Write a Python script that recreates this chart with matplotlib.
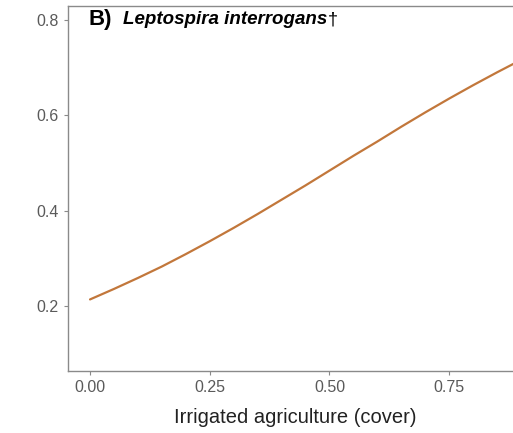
import matplotlib.pyplot as plt

plt.rcParams['font.family'] = ['Liberation Sans', 'DejaVu Sans']

# predicted probability along irrigated agriculture cover
cover = [0.00, 0.05, 0.10, 0.15, 0.20, 0.25, 0.30, 0.35, 0.40, 0.45, 0.50,
         0.55, 0.60, 0.65, 0.70, 0.75, 0.80, 0.85, 0.90, 0.95]
prob = [0.214, 0.236, 0.259, 0.283, 0.309, 0.336, 0.364, 0.393, 0.423, 0.453, 0.484,
        0.515, 0.545, 0.576, 0.606, 0.635, 0.663, 0.690, 0.716, 0.740]

xticks = [0.00, 0.25, 0.50, 0.75]
xtick_labels = ['0.00', '0.25', '0.50', '0.75']
yticks = [0.2, 0.4, 0.6, 0.8]
ytick_labels = ['0.2', '0.4', '0.6', '0.8']

fig = plt.figure(figsize=(5.13, 4.33), dpi=100)
ax = fig.add_axes([68 / 513, 1 - 371 / 433, 454 / 513, 365 / 433])

ax.plot(cover, prob, color='#c2773b', lw=1.6, solid_capstyle='round')

ax.set_xlim(-0.046, 0.902)
ax.set_ylim(0.064, 0.829)
ax.set_xticks(xticks)
ax.set_xticklabels(xtick_labels)
ax.set_yticks(yticks)
ax.set_yticklabels(ytick_labels)

for s in ax.spines.values():
    s.set_color('#8a8a8a')
    s.set_linewidth(1.0)
ax.spines['right'].set_visible(False)
ax.tick_params(colors='#8a8a8a', labelcolor='#5a5a5a', labelsize=11.5, length=3, width=0.8)

ax.set_xlabel('Irrigated agriculture (cover)', fontsize=14.5, color='#222222', labelpad=9)

# panel title: letter, species name, dagger
ax.text(20 / 454, 0.993, 'B)', transform=ax.transAxes, fontsize=16, fontweight='bold',
        va='top', ha='left')
sp = ax.text(55 / 454, 0.985, 'Leptospira interrogans', transform=ax.transAxes,
             fontsize=13.5, fontweight='bold', fontstyle='italic', va='top', ha='left')
ax.annotate('†', xy=(1, 1), xycoords=sp, xytext=(0.5, 0), textcoords='offset points',
            fontsize=13, va='top', ha='left')

fig.savefig('out.png', dpi=100)
